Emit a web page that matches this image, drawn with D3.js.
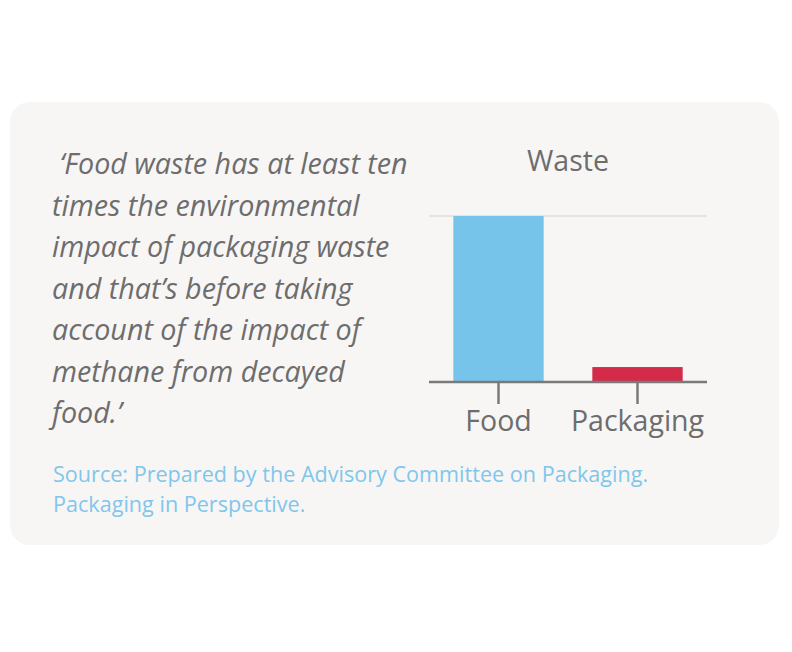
<!DOCTYPE html>
<html><head><meta charset="utf-8">
<script src="https://cdn.jsdelivr.net/npm/d3@7"></script>
<style>html,body{margin:0;padding:0;background:#fff;}</style>
</head><body>
<script>
const categories = ["Food", "Packaging"];
const values = [10, 0.9];
const barColors = ["#77c4ea", "#d42b4a"];
const chartTitle = "Waste";
const quoteLines = [" \u2018Food waste has at least ten", "times the environmental", "impact of packaging waste", "and that\u2019s before taking", "account of the impact of", "methane from decayed", "food.\u2019"];
const sourceLines = ["Source: Prepared by the Advisory Committee on Packaging.", "Packaging in Perspective."];

const W = 792, H = 652;
const svg = d3.select("body").append("svg").attr("width", W).attr("height", H);
svg.append("rect").attr("x", 10).attr("y", 102).attr("width", 769).attr("height", 443)
  .attr("rx", 20).attr("fill", "#f7f6f5");

// quote
const q = svg.append("text").attr("font-family", "Open Sans").attr("font-style", "italic")
  .attr("font-size", 28.7).attr("fill", "#6d6d6d").attr("xml:space", "preserve");
quoteLines.forEach((l, i) => q.append("tspan").attr("x", 52).attr("y", 174 + i * 41.5).text(l));

const s = svg.append("text").attr("font-family", "Open Sans").attr("font-size", 21.6).attr("fill", "#80c6ec");
sourceLines.forEach((l, i) => s.append("tspan").attr("x", 53).attr("y", 482 + i * 30).text(l));

// chart
const x = d3.scaleBand().domain(categories).range([429, 707]).paddingInner(0.35).paddingOuter(0.175);
const y = d3.scaleLinear().domain([0, 10]).range([382, 216]);

svg.append("g").selectAll("line").data(y.ticks(1).filter(d => d > 0)).join("line")
  .attr("x1", 429).attr("x2", 707).attr("y1", d => y(d)).attr("y2", d => y(d))
  .attr("stroke", "#e4e4e4").attr("stroke-width", 2);

svg.append("g").selectAll("rect").data(values).join("rect")
  .attr("x", (d, i) => x(categories[i])).attr("width", x.bandwidth())
  .attr("y", d => y(d)).attr("height", d => y(0) - y(d))
  .attr("fill", (d, i) => barColors[i]);

const ax = svg.append("g").attr("transform", `translate(0,${y(0)})`)
  .call(d3.axisBottom(x).tickSize(22).tickSizeOuter(0).tickPadding(7));
ax.select(".domain").attr("stroke", "#7a7a7a").attr("stroke-width", 2.5)
  .attr("d", "M429,0H707");
ax.selectAll(".tick line").attr("stroke", "#7a7a7a").attr("stroke-width", 2.5);
ax.selectAll(".tick text").attr("font-family", "Open Sans").attr("font-size", 28.5).attr("fill", "#6d6d6d");

svg.append("text").attr("x", 568).attr("y", 171).attr("text-anchor", "middle")
  .attr("font-family", "Open Sans").attr("font-size", 28.5).attr("fill", "#6d6d6d").text(chartTitle);
</script>
</body></html>
